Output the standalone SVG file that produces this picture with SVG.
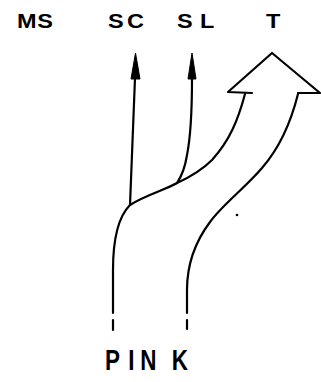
<svg xmlns="http://www.w3.org/2000/svg" width="321" height="382" viewBox="0 0 321 382">
<style>
.lbl{font-family:"Liberation Sans",Arial,sans-serif;font-weight:bold;fill:#000}
.top{font-size:21px}
.ln{fill:none;stroke:#000;stroke-width:2.2;stroke-linecap:round;stroke-linejoin:round}
.head{fill:#000;stroke:#000;stroke-width:1;stroke-linejoin:round}
</style>
<rect width="321" height="382" fill="#fff"/>
<g id="MS"><text class="lbl top" transform="scale(1.12,1)" x="15.2 33.2" y="28">MS</text></g>
<g id="SC"><text class="lbl top" transform="scale(1.12,1)" x="96.4 113.4" y="28">SC</text></g>
<g id="SL"><text class="lbl top" transform="scale(1.12,1)" x="158 178.5" y="28">SL</text></g>
<g id="T"><text class="lbl top" transform="scale(1.12,1)" x="237.5" y="28">T</text></g>
<g id="PINK"><text class="lbl" font-size="30" transform="translate(105,370) scale(0.75,1)" x="0 31 47 89" y="0">PINK</text></g>
<g id="connectors">
  <path class="ln" d="M135,78 L130,205"/>
  <path class="head" d="M135.5,53 L131,79 L140,79 Z"/>
  <path class="ln" d="M192,78 C192,110 190,140 187,155 C185,168 181,177 177,183"/>
  <path class="head" d="M192,53 L188,79 L196,79 Z"/>
  <path class="ln" d="M252,93 L228,92 L272,53 L320,93 L298,93"/>
  <path class="ln" d="M245,94 C238,120 230,140 212,160 C200,172 188,178 177,183 C165,190 145,195 130,205 C120,215 113,235 113,270 L113,313"/>
  <path class="ln" d="M298,94 C292,118 282,145 262,168 C245,188 222,205 210,222 C195,242 187,265 187,290 L187,313"/>
  <path class="ln" d="M113,320 L113,330"/>
  <path class="ln" d="M187,320 L187,329"/>
  <circle cx="237" cy="215" r="1.3" fill="#000"/>
</g>
</svg>
